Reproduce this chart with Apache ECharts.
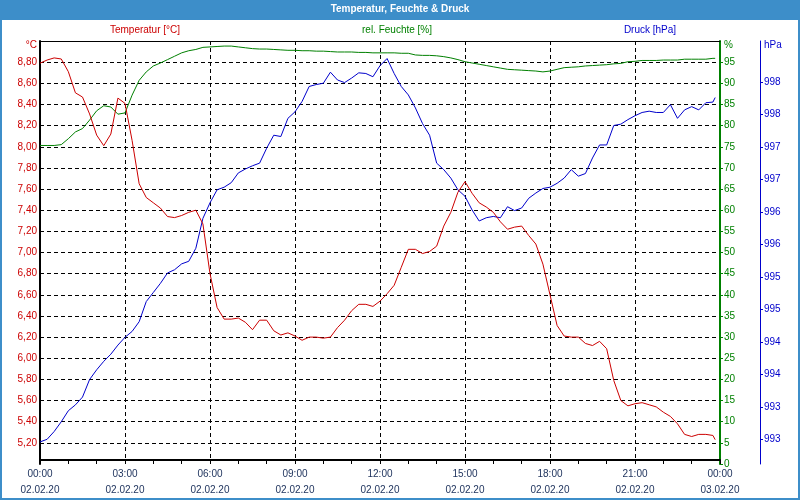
<!DOCTYPE html>
<html><head><meta charset="utf-8">
<script src="https://cdn.jsdelivr.net/npm/echarts@6.0.0/dist/echarts.min.js"></script>
<style>html,body{margin:0;padding:0;background:#fff}#c{width:800px;height:500px}</style>
</head><body><div id="c"></div>
<script>
// time of day in hours (02.02.20 00:00 = 0)
const hours = [0,0.25,0.5,0.75,1,1.25,1.5,1.75,2,2.25,2.5,2.75,3,3.25,3.5,3.75,4,4.25,4.5,4.75,5,5.25,5.5,5.75,
  6,6.25,6.5,6.75,7,7.25,7.5,7.75,8,8.25,8.5,8.75,9,9.25,9.5,9.75,10,10.25,10.5,10.75,11,11.25,11.5,11.75,
  12,12.25,12.5,12.75,13,13.25,13.5,13.75,14,14.25,14.5,14.75,15,15.25,15.5,15.75,16,16.25,16.5,16.75,17,17.25,17.5,17.75,
  18,18.25,18.5,18.75,19,19.25,19.5,19.75,20,20.25,20.5,20.75,21,21.25,21.5,21.75,22,22.25,22.5,22.75,23,23.25,23.5,23.75,23.83];
const temperature = [8.79,8.82,8.84,8.83,8.71,8.51,8.47,8.31,8.11,8.01,8.12,8.46,8.41,8.06,7.65,7.52,7.47,7.42,7.34,7.33,7.35,7.38,7.40,7.27,
  6.80,6.48,6.37,6.37,6.38,6.34,6.27,6.36,6.36,6.26,6.22,6.24,6.21,6.17,6.20,6.20,6.19,6.20,6.29,6.36,6.45,6.51,6.51,6.49,
  6.54,6.61,6.69,6.86,7.03,7.03,6.99,7.01,7.06,7.25,7.38,7.57,7.67,7.56,7.47,7.43,7.38,7.29,7.22,7.24,7.25,7.16,7.08,6.89,
  6.60,6.31,6.21,6.20,6.20,6.14,6.12,6.16,6.09,5.79,5.60,5.55,5.57,5.58,5.56,5.54,5.49,5.45,5.38,5.28,5.26,5.28,5.28,5.27,5.23];
const humidity = [75.3,75.3,75.3,75.5,76.9,78.5,79.3,81.3,83.5,84.7,84.4,82.7,83.0,87.2,90.7,92.7,94.1,94.8,95.6,96.4,97.2,97.7,98.0,98.5,
  98.6,98.7,98.8,98.8,98.6,98.4,98.2,98.1,98.1,98.0,97.9,97.8,97.8,97.7,97.7,97.6,97.6,97.5,97.4,97.4,97.4,97.3,97.3,97.2,
  97.2,97.2,97.2,97.1,97.1,96.7,96.6,96.6,96.5,96.3,96.0,95.6,95.1,94.8,94.5,94.2,93.9,93.6,93.3,93.2,93.1,93.0,92.9,92.7,
  92.9,93.3,93.7,93.8,93.9,94.1,94.2,94.3,94.4,94.6,94.7,95.1,95.2,95.4,95.4,95.4,95.5,95.5,95.5,95.7,95.7,95.7,95.7,95.9,95.9];
const pressure = [992.71,992.75,992.87,993.02,993.19,993.28,993.40,993.67,993.82,993.95,994.06,994.20,994.32,994.41,994.56,994.87,995.01,995.15,995.31,995.36,995.45,995.49,995.69,996.15,
  996.39,996.59,996.63,996.70,996.85,996.91,996.96,997.00,997.23,997.43,997.41,997.69,997.79,997.95,998.18,998.21,998.23,998.40,998.28,998.24,998.31,998.39,998.38,998.33,
  998.50,998.61,998.38,998.18,998.05,997.85,997.61,997.43,997.00,996.90,996.77,996.59,996.49,996.28,996.11,996.16,996.18,996.16,996.33,996.27,996.31,996.46,996.54,996.61,
  996.63,996.69,996.77,996.90,996.80,996.84,997.08,997.28,997.28,997.58,997.60,997.67,997.73,997.78,997.80,997.78,997.78,997.90,997.69,997.82,997.87,997.82,997.93,997.94,998.01];
const xTimeLabels = ['00:00','03:00','06:00','09:00','12:00','15:00','18:00','21:00','00:00'];
const xDateLabels = ['02.02.20','02.02.20','02.02.20','02.02.20','02.02.20','02.02.20','02.02.20','02.02.20','03.02.20'];
const pressureTicks = [992.75,993.25,993.75,994.25,994.75,995.25,995.75,996.25,996.75,997.25,997.75,998.25];
const pressureTickLabels = ['993','993','994','994','995','995','996','996','997','997','998','998'];

const FONT = 'Liberation Sans';
const FS = 10;
const RED = '#cc0000', GREEN = '#008000', BLUE = '#0000cc', FRAME = '#3d8ec9';

const chart = echarts.init(document.getElementById('c'), null, {renderer: 'canvas'});
const pairs = arr => hours.map((h, i) => [h, arr[i]]);

chart.setOption({
  animation: false,
  backgroundColor: '#ffffff',
  graphic: [
    {type: 'rect', shape: {x: 0, y: 0, width: 800, height: 20}, style: {fill: FRAME}, silent: true},
    {type: 'rect', shape: {x: 1, y: 1, width: 798, height: 498}, style: {fill: null, stroke: FRAME, lineWidth: 2}, silent: true},
    {type: 'text', x: 400, y: 9, style: {text: 'Temperatur, Feuchte & Druck', fill: '#ffffff', fontFamily: FONT, fontWeight: 'bold', fontSize: 10, align: 'center', verticalAlign: 'middle'}},
    {type: 'text', x: 145, y: 30, style: {text: 'Temperatur [°C]', fill: RED, fontFamily: FONT, fontSize: FS, align: 'center', verticalAlign: 'middle'}},
    {type: 'text', x: 397, y: 30, style: {text: 'rel. Feuchte [%]', fill: GREEN, fontFamily: FONT, fontSize: FS, align: 'center', verticalAlign: 'middle'}},
    {type: 'text', x: 650, y: 30, style: {text: 'Druck [hPa]', fill: BLUE, fontFamily: FONT, fontSize: FS, align: 'center', verticalAlign: 'middle'}}
  ],
  grid: {left: 40, top: 41, width: 680, height: 423, outerBoundsMode: 'none', containLabel: false},
  xAxis: [{
    type: 'value', min: 0, max: 24, interval: 3, offset: -4,
    axisLine: {show: true, onZero: false, lineStyle: {color: '#000', width: 2}},
    axisTick: {show: true, length: 4, lineStyle: {color: '#000'}},
    minorTick: {show: true, splitNumber: 3, length: 4, lineStyle: {color: '#000'}},
    splitLine: {show: true, showMinLine: false, showMaxLine: false, lineStyle: {color: '#000', type: [4, 3], width: 1}},
    axisLabel: {
      margin: 6, color: '#1a2f5a', fontFamily: FONT, fontSize: FS, lineHeight: 16, hideOverlap: false,
      showMinLabel: true, showMaxLabel: true,
      formatter: v => { const i = Math.round(v / 3); return xTimeLabels[i] + '\n' + xDateLabels[i]; }
    }
  }, {
    type: 'value', position: 'top', min: 0, max: 24,
    axisLine: {show: true, onZero: false, lineStyle: {color: '#000', width: 1}},
    axisTick: {show: false}, axisLabel: {show: false}, splitLine: {show: false}
  }],
  yAxis: [{
    type: 'value', position: 'left', min: 5, max: 9, interval: 0.2,
    name: '°C', nameLocation: 'end', nameGap: -4,
    nameTextStyle: {color: RED, fontFamily: FONT, fontSize: FS, align: 'right', verticalAlign: 'middle', padding: [0, 3, 0, 0]},
    axisLine: {show: true, onZero: false, lineStyle: {color: '#000', width: 2}},
    axisTick: {show: false},
    splitLine: {show: true, showMinLine: false, showMaxLine: false, lineStyle: {color: '#000', type: [4, 3], width: 1}},
    axisLabel: {margin: 3, color: RED, fontFamily: FONT, fontSize: FS, showMinLabel: false, showMaxLabel: false,
      formatter: v => v.toFixed(2).replace('.', ',')}
  }, {
    type: 'value', position: 'right', min: 0, max: 100, interval: 5,
    name: '%', nameLocation: 'end', nameGap: -4,
    nameTextStyle: {color: GREEN, fontFamily: FONT, fontSize: FS, align: 'left', verticalAlign: 'middle', padding: [0, 0, 0, 4]},
    axisLine: {show: true, onZero: false, lineStyle: {color: GREEN, width: 2}},
    axisTick: {show: true, length: 3, lineStyle: {color: GREEN}},
    splitLine: {show: false},
    axisLabel: {margin: 4, color: GREEN, fontFamily: FONT, fontSize: FS, showMaxLabel: false}
  }, {
    type: 'value', position: 'right', offset: 40, min: 992.37, max: 998.88,
    name: 'hPa', nameLocation: 'end', nameGap: -4,
    nameTextStyle: {color: BLUE, fontFamily: FONT, fontSize: FS, align: 'left', verticalAlign: 'middle', padding: [0, 0, 0, 4]},
    axisLine: {show: true, onZero: false, lineStyle: {color: BLUE, width: 1}},
    axisTick: {show: true, length: 3, lineStyle: {color: BLUE}, customValues: pressureTicks},
    splitLine: {show: false},
    axisLabel: {margin: 4, color: BLUE, fontFamily: FONT, fontSize: FS, customValues: pressureTicks,
      formatter: v => { let best = 0; pressureTicks.forEach((t, i) => { if (Math.abs(t - v) < Math.abs(pressureTicks[best] - v)) best = i; }); return pressureTickLabels[best]; }}
  }],
  series: [
    {name: 'rel. Feuchte [%]', type: 'line', xAxisIndex: 0, yAxisIndex: 1, data: pairs(humidity), showSymbol: false, lineStyle: {color: GREEN, width: 1}, itemStyle: {color: GREEN}},
    {name: 'Druck [hPa]', type: 'line', xAxisIndex: 0, yAxisIndex: 2, data: pairs(pressure), showSymbol: false, lineStyle: {color: BLUE, width: 1}, itemStyle: {color: BLUE}},
    {name: 'Temperatur [°C]', type: 'line', xAxisIndex: 0, yAxisIndex: 0, data: pairs(temperature), showSymbol: false, lineStyle: {color: RED, width: 1}, itemStyle: {color: RED}}
  ]
});
</script></body></html>
